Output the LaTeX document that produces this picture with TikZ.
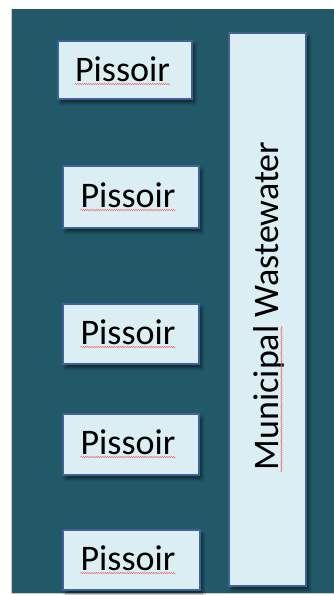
\documentclass[tikz,border=0pt]{standalone}
\usepackage{fontspec}
\setmainfont{Carlito}
\usetikzlibrary{shadows.blur,decorations.pathmorphing}
\definecolor{panelteal}{HTML}{215968}
\definecolor{boxfill}{HTML}{DBEEF4}
\definecolor{boxline}{HTML}{3F6398}
\definecolor{spellred}{HTML}{F07070}
\tikzset{
  unitbox/.style={draw=boxline, line width=1.6pt, fill=boxfill,
    blur shadow={shadow xshift=3pt, shadow yshift=-4pt, shadow blur steps=6, shadow opacity=55, shadow blur radius=3pt}},
  label36/.style={font=\fontsize{36}{40}\selectfont, text=black, inner sep=0pt},
  spellmark/.style={draw=spellred, line width=0.5pt, decorate,
    decoration={snake, segment length=2.2pt, amplitude=0.7pt}}
}
\begin{document}
\begin{tikzpicture}[x=1pt,y=-1pt]
\useasboundingbox (0,0) rectangle (334,595);
% panel
\fill[white] (0,0) rectangle (334,595);
\fill[panelteal] (12,9) rectangle (334,593);
\draw[gray!40, line width=0.6pt] (11.7,9) -- (11.7,593.3) -- (334,593.3);

% pissoir boxes
\node[unitbox, minimum width=134pt, minimum height=58pt, anchor=north west] (p1) at (57,40) {};
\node[unitbox, minimum width=136pt, minimum height=62pt, anchor=north west] (p2) at (62,165) {};
\node[unitbox, minimum width=136pt, minimum height=60pt, anchor=north west] (p3) at (62,303) {};
\node[unitbox, minimum width=136pt, minimum height=61pt, anchor=north west] (p4) at (62,413) {};
\node[unitbox, minimum width=137pt, minimum height=60pt, anchor=north west] (p5) at (62,529) {};

% tall collector box
\node[unitbox, minimum width=77pt, minimum height=553pt, anchor=north west] (mw) at (228,32) {};

% labels
\foreach \n/\bx/\by in {p1/122.5/81, p2/128/207, p3/128/344, p4/128/454, p5/128/570} {
  \node[label36, anchor=base] (\n t) at (\bx,\by) {Pissoir};
  \draw[spellmark] ([xshift=0pt, yshift=-3pt]\n t.base west) -- ([yshift=-3pt]\n t.base east);
}
\node[label36, rotate=90, anchor=base] (mwt) at (278,306) {Municipal Wastewater};
\coordinate (sq1) at (281.5,472);
\coordinate (sq2) at (281.5,326);
\draw[spellmark] (sq1) -- (sq2);
\end{tikzpicture}
\end{document}
